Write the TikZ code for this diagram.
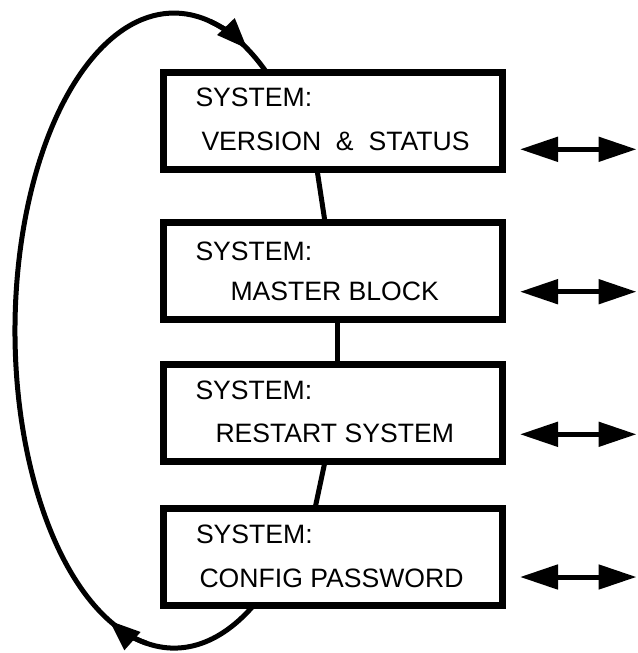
\documentclass[tikz,border=0pt]{standalone}
\usepackage{fontspec}
\setmainfont{Liberation Sans}
\usetikzlibrary{arrows.meta}
\begin{document}
\begin{tikzpicture}[x=1pt,y=-1pt,
  box/.style={draw=black, line width=7pt, minimum width=339pt, minimum height=97pt, inner sep=0pt, outer sep=0pt},
  lbl/.style={anchor=base west, inner sep=0pt, outer sep=0pt, font=\fontsize{26.6pt}{31pt}\selectfont},
  link/.style={line width=5pt},
  loopline/.style={line width=5pt},
  looptip/.style={line width=5pt, -{Triangle[length=31pt,width=23pt]}},
  io/.style={line width=5pt, {Triangle[length=38pt,width=24pt]}-{Triangle[length=38pt,width=24pt]}}
]
\useasboundingbox (0,0) rectangle (637,653);

% boxes
\node[box] (b1) at (332.5,121) {};
\node[box] (b2) at (332.5,270.5) {};
\node[box] (b3) at (332.5,413) {};
\node[box] (b4) at (332.5,557) {};

% texts
\node[lbl] (t1a) at (195.5,106.7) {SYSTEM:};
\node[lbl] (t1b) at (201.5,150.5) {VERSION\ \ \&\ \ STATUS};
\node[lbl] (t2a) at (195.5,260) {SYSTEM:};
\node[lbl] (t2b) at (230.5,300.7) {MASTER BLOCK};
\node[lbl] (t3a) at (195.5,399.3) {SYSTEM:};
\node[lbl] (t3b) at (215.5,442.7) {RESTART SYSTEM};
\node[lbl] (t4a) at (196,543.3) {SYSTEM:};
\node[lbl] (t4b) at (199.5,587.3) {CONFIG PASSWORD};

% links between boxes
\draw[link] ([xshift=-15.5pt]b1.south) -- ([xshift=-7.5pt]b2.north);
\draw[link] ([xshift=4.8pt]b2.south) -- ([xshift=4.8pt]b3.north);
\draw[link] ([xshift=-7.5pt]b3.south) -- ([xshift=-17.5pt]b4.north);

% loop back from last box to first box
\coordinate (c) at (174,330.5);
\draw[loopline] ([xshift=-79pt]b4.south) arc[start angle=60,end angle=305,x radius=159,y radius=317.5];
\draw[looptip] ([shift={(100:159 and 317.5)}]c) arc[start angle=100,end angle=114,x radius=159,y radius=317.5];
\draw[looptip] ([shift={(283:159 and 317.5)}]c) arc[start angle=283,end angle=297.5,x radius=159,y radius=317.5];

% double arrows on the right
\coordinate (r1a) at (520,149.3); \coordinate (r1b) at (636.5,149.3);
\coordinate (r2a) at (520,291.7); \coordinate (r2b) at (636.5,291.7);
\coordinate (r3a) at (520,434.3); \coordinate (r3b) at (636.5,434.3);
\coordinate (r4a) at (520,577);   \coordinate (r4b) at (636.5,577);
\draw[io] (r1a) -- (r1b);
\draw[io] (r2a) -- (r2b);
\draw[io] (r3a) -- (r3b);
\draw[io] (r4a) -- (r4b);
\end{tikzpicture}
\end{document}
